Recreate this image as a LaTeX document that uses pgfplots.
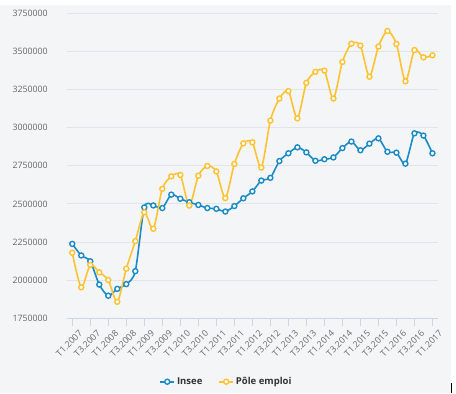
\documentclass[border=0pt]{standalone}
\usepackage{pgfplots}
\pgfplotsset{compat=1.18}
\usetikzlibrary{calc}
\pgfdeclarelayer{background}
\pgfsetlayers{background,main}
\usepackage{fontspec}
\setmainfont{Open Sans}
\definecolor{bgc}{HTML}{F4F5F7}
\definecolor{gridc}{HTML}{E3E4E7}
\definecolor{axc}{HTML}{CCD6EB}
\definecolor{tickc}{HTML}{666666}
\definecolor{insee}{HTML}{1A8BC7}
\definecolor{pole}{HTML}{FDC230}
\pgfplotstableread{
i v
0 2238000
1 2162000
2 2124000
3 1971000
4 1898000
5 1943000
6 1974000
7 2059000
8 2477000
9 2490000
10 2473000
11 2561000
12 2534000
13 2511000
14 2493000
15 2473000
16 2468000
17 2450000
18 2486000
19 2537000
20 2582000
21 2653000
22 2671000
23 2781000
24 2832000
25 2871000
26 2838000
27 2783000
28 2793000
29 2805000
30 2866000
31 2909000
32 2852000
33 2895000
34 2930000
35 2842000
36 2836000
37 2764000
38 2963000
39 2948000
40 2832000
}\inseedata
\pgfplotstableread{
i v
0 2180000
1 1953000
2 2100000
3 2051000
4 2001000
5 1858000
6 2075000
7 2256000
8 2445000
9 2337000
10 2599000
11 2681000
12 2690000
13 2489000
14 2685000
15 2749000
16 2713000
17 2538000
18 2762000
19 2897000
20 2904000
21 2738000
22 3047000
23 3191000
24 3240000
25 3061000
26 3294000
27 3366000
28 3374000
29 3191000
30 3431000
31 3551000
32 3538000
33 3334000
34 3532000
35 3634000
36 3549000
37 3304000
38 3509000
39 3461000
40 3474000
}\poledata
\begin{document}
\begin{tikzpicture}[x=1pt,y=1pt]
\begin{axis}[
  name=ax,
  width=371pt, height=305pt, scale only axis,
  xmin=-0.55, xmax=40.65,
  ymin=1750000, ymax=3750000,
  ytick={1750000,2000000,...,3750000},
  scaled y ticks=false,
  /pgf/number format/fixed,
  /pgf/number format/1000 sep={},
  /pgf/number format/precision=0,
  /pgf/number format/assume math mode=true,
  xtick={0,2,...,40},
  xticklabels={T1.2007,T3.2007,T1.2008,T3.2008,T1.2009,T3.2009,T1.2010,T3.2010,T1.2011,T3.2011,T1.2012,T3.2012,T1.2013,T3.2013,T1.2014,T3.2014,T1.2015,T3.2015,T1.2016,T3.2016,T1.2017},
  tick label style={font=\fontsize{8.8}{10}\selectfont, text=tickc},
  y tick label style={xshift=-8pt},
  x tick label style={rotate=45, anchor=east, inner sep=0pt, yshift=-10pt, xshift=2pt},
  ymajorgrids,
  grid style={gridc, line width=1pt},
  separate axis lines,
  axis x line*=bottom, axis y line*=left,
  x axis line style={-, axc, line width=1pt},
  y axis line style={draw=none},
  xtick style={axc, line width=1pt},
  ytick style={draw=none},
  tick align=outside,
  major tick length=8pt,
  clip=false,
  legend style={draw=none, fill=none, at={(0.429,-0.208)}, anchor=center,
    font=\bfseries\fontsize{9.5}{12}\selectfont, text=black!80,
    /tikz/every even column/.append style={column sep=14pt}},
  legend columns=2,
  legend image code/.code={\draw[mark repeat=2,mark phase=2,#1] plot coordinates {(0pt,0pt) (7pt,0pt) (14pt,0pt)};},
]
\addplot[insee, line width=1.6pt, smooth, tension=0.45, mark=*, mark size=2.5pt,
  mark options={fill=white, draw=insee, line width=1.4pt}] table[x=i,y=v] {\inseedata};
\addlegendentry{Insee}
\addplot[pole, line width=1.6pt, smooth, tension=0.45, mark=*, mark size=2.5pt,
  mark options={fill=white, draw=pole, line width=1.4pt}] table[x=i,y=v] {\poledata};
\addlegendentry{Pôle emploi}
\coordinate (SW) at (rel axis cs:0,0);
\end{axis}
\pgfresetboundingbox
\coordinate (O) at ($(SW)+(-67.3,-74.7)$);
\begin{pgfonlayer}{background}
\fill[bgc] (O) rectangle ++(450.7,388);
\end{pgfonlayer}
\draw[black,line width=1pt] ($(O)+(451.7,0)$) -- ++(0,10);
\path[use as bounding box] (O) rectangle ++(456,393);
\end{tikzpicture}
\end{document}
